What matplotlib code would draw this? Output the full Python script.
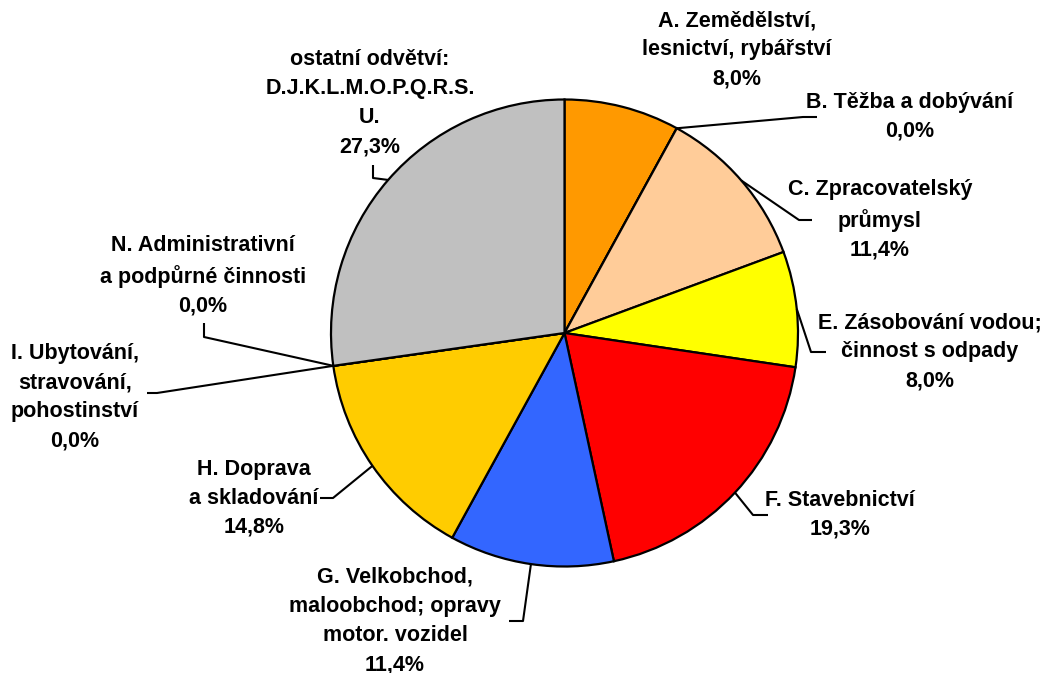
import matplotlib
matplotlib.use("Agg")
import matplotlib.pyplot as plt
import numpy as np

plt.rcParams['font.family'] = ['Liberation Sans', 'DejaVu Sans']

categories = [
    "A. Zemědělství,\nlesnictví, rybářství",
    "B. Těžba a dobývání",
    "C. Zpracovatelský\nprůmysl",
    "E. Zásobování vodou;\nčinnost s odpady",
    "F. Stavebnictví",
    "G. Velkobchod,\nmaloobchod; opravy\nmotor. vozidel",
    "H. Doprava\na skladování",
    "I. Ubytování,\nstravování,\npohostinství",
    "N. Administrativní\na podpůrné činnosti",
    "ostatní odvětví:\nD.J.K.L.M.O.P.Q.R.S.\nU.",
]
values = [8.0, 0.0, 11.4, 8.0, 19.3, 11.4, 14.8, 0.0, 0.0, 27.3]
colors = ["#FF9900", "#FFCC99", "#FFCC99", "#FFFF00", "#FF0000",
          "#3366FF", "#FFCC00", "#FFCC00", "#C0C0C0", "#C0C0C0"]

W, H = 1057, 673
fig = plt.figure(figsize=(W / 100, H / 100), dpi=100)
ax = fig.add_axes([0, 0, 1, 1])

def Y(y):
    return H - y

cx, cy, R = 564.5, 333, 233.5
wedges, _ = ax.pie(values, colors=colors, startangle=90, counterclock=False,
                   radius=R, center=(cx, Y(cy)),
                   wedgeprops=dict(edgecolor="black", linewidth=1.6))
ax.set_xlim(0, W)
ax.set_ylim(0, H)
ax.set_aspect("equal")
ax.axis("off")

# label layout: (text center x, text center y, elbow points list or None)
layout = [
    (737, 50, None),
    (910, 117, [(803, 117), (817, 117)]),
    (880, 220, [(799, 220), (812, 220)]),
    (930, 352, [(811, 352), (826, 352)]),
    (840, 515, [(753, 515), (768, 515)]),
    (395, 621, [(523, 621), (509, 621)]),
    (254, 498, [(333, 498), (320, 498)]),
    (75, 397, [(157, 393), (147, 393)]),
    (203, 276, [(204, 337), (204, 323)]),
    (370, 103, [(373, 178), (373, 165)]),
]

def fmt(v):
    return f"{v:.1f}".replace(".", ",") + "%"

for w, cat, v, (tx, ty, elbow) in zip(wedges, categories, values, layout):
    ax.text(tx, Y(ty), cat + "\n" + fmt(v), ha="center", va="center",
            multialignment="center", fontsize=15.5, fontweight="bold",
            linespacing=1.5, color="black")
    if elbow is not None:
        mid = np.deg2rad((w.theta1 + w.theta2) / 2)
        sx = w.center[0] + w.r * np.cos(mid)
        sy = w.center[1] + w.r * np.sin(mid)
        xs = [sx] + [p[0] for p in elbow]
        ys = [sy] + [Y(p[1]) for p in elbow]
        ax.plot(xs, ys, color="black", linewidth=1.5, solid_capstyle="butt")

fig.savefig("out.png", dpi=100)
